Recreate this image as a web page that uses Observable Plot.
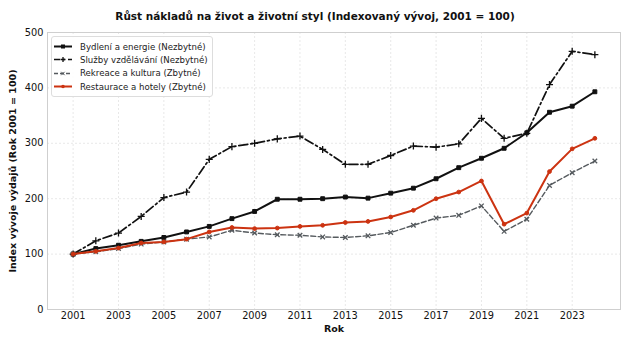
<!DOCTYPE html>
<html>
<head>
<meta charset="utf-8">
<script src="https://cdn.jsdelivr.net/npm/d3@7"></script>
<script src="https://cdn.jsdelivr.net/npm/@observablehq/plot@0.6"></script>
<style>
  html, body { margin: 0; padding: 0; background: #fff; }
  body { width: 630px; height: 346px; position: relative; font-family: "DejaVu Sans", sans-serif; overflow: hidden; }
  #title { height: 26px; line-height: 32px; text-align: center; font-weight: bold; font-size: 10.5px; color: #111; }
  #legend { position: absolute; left: 51px; top: 36px; width: 160px; padding: 3px 0 3px 0; border: 1px solid #ddd; border-radius: 3px; background: rgba(255,255,255,0.9); font-size: 8.6px; color: #222; }
  .li { display: flex; align-items: center; height: 13.3px; }
  .li svg { margin-left: 2px; margin-right: 8px; }
</style>
</head>
<body>
<div id="title">Růst nákladů na život a životní styl (Indexovaný vývoj, 2001 = 100)</div>
<div id="chart"></div>
<div id="legend"></div>
<script>
const years = [2001,2002,2003,2004,2005,2006,2007,2008,2009,2010,2011,2012,2013,2014,2015,2016,2017,2018,2019,2020,2021,2022,2023,2024];
const seriesNames = ["Bydlení a energie (Nezbytné)", "Služby vzdělávání (Nezbytné)", "Rekreace a kultura (Zbytné)", "Restaurace a hotely (Zbytné)"];
const bydleni =   [100,110,116,123,130,140,150,164,177,199,199,200,203,201,210,219,236,256,273,291,319,356,367,393];
const sluzby =    [100,124,138,168,202,212,271,294,300,308,313,289,262,262,278,295,293,299,345,309,318,406,466,460];
const rekreace =  [100,104,110,118,122,127,131,143,138,135,134,131,130,133,139,152,165,170,187,141,163,224,247,268];
const restaurace =[100,105,111,120,122,127,140,148,146,147,150,152,157,159,167,179,200,212,232,154,174,249,290,309];
const xTicks = [2001,2003,2005,2007,2009,2011,2013,2015,2017,2019,2021,2023];
const yTicks = [0,100,200,300,400,500];

const styles = [
  {color: "#111111", width: 2.0, dash: null, symbol: "square", r: 2.2, fill: true},
  {color: "#111111", width: 1.7, dash: "9,3,2,3", symbol: "plus", r: 2.4, fill: false},
  {color: "#555a5e", width: 1.4, dash: "5,2.5", symbol: "times", r: 2.2, fill: false},
  {color: "#cc3311", width: 2.0, dash: null, symbol: "circle", r: 1.9, fill: true}
];
const allVals = [bydleni, sluzby, rekreace, restaurace];
const data = [];
allVals.forEach((vals, s) => vals.forEach((v, i) => data.push({year: years[i], value: v, s})));

const marks = [
  Plot.ruleX(xTicks, {stroke: "#e2e2e2", strokeDasharray: "2,2", strokeWidth: 0.8}),
  Plot.ruleY(yTicks, {stroke: "#e2e2e2", strokeDasharray: "2,2", strokeWidth: 0.8}),
  Plot.frame({stroke: "#cfcfcf"}),
  Plot.axisX({ticks: xTicks, tickFormat: "d", tickSize: 0, tickPadding: 3, fontSize: 9.8, label: null}),
  Plot.axisY({ticks: yTicks, tickSize: 0, tickPadding: 4, fontSize: 9.8, label: null}),
  Plot.text(["Index vývoje výdajů (Rok 2001 = 100)"], {frameAnchor: "left", dx: -35, rotate: -90, textAnchor: "middle", fontWeight: "bold", fontSize: 9.5, fill: "#111"}),
  Plot.text(["Rok"], {frameAnchor: "bottom", dy: 19, textAnchor: "middle", lineAnchor: "middle", fontWeight: "bold", fontSize: 9.5, fill: "#111"})
];
styles.forEach((st, s) => {
  const d = data.filter(e => e.s === s);
  marks.push(Plot.line(d, {x: "year", y: "value", stroke: st.color, strokeWidth: st.width, strokeDasharray: st.dash || undefined}));
  marks.push(Plot.dot(d, {x: "year", y: "value", symbol: st.symbol, r: st.r, stroke: st.color, strokeWidth: st.fill ? 1 : 1.3, fill: st.fill ? st.color : "none"}));
});

const plot = Plot.plot({
  width: 630,
  height: 320,
  marginTop: 6,
  marginLeft: 47,
  marginRight: 10,
  marginBottom: 37,
  style: {fontFamily: "DejaVu Sans, sans-serif", color: "#111", background: "#fff"},
  x: {domain: [1999.87, 2025.13]},
  y: {domain: [0, 500]},
  marks
});
document.getElementById("chart").appendChild(plot);

const leg = document.getElementById("legend");
styles.forEach((st, s) => {
  const row = document.createElement("div");
  row.className = "li";
  const sym = st.symbol === "square" ? `<rect x="7" y="3.5" width="4" height="4" fill="${st.color}"/>` :
              st.symbol === "plus" ? `<path d="M6.5 5.5h5M9 3v5" stroke="${st.color}" stroke-width="1.3"/>` :
              st.symbol === "times" ? `<path d="M7.3 3.8l3.4 3.4M10.7 3.8l-3.4 3.4" stroke="${st.color}" stroke-width="1"/>` :
              `<circle cx="9" cy="5.5" r="1.8" fill="${st.color}"/>`;
  row.innerHTML = `<svg width="18" height="11"><line x1="0" x2="18" y1="5.5" y2="5.5" stroke="${st.color}" stroke-width="${st.width}" ${st.dash ? `stroke-dasharray="${s===1?'6,3,2,3':'4,2'}"` : ""}/>${sym}</svg><span>${seriesNames[s]}</span>`;
  leg.appendChild(row);
});
</script>
</body>
</html>
